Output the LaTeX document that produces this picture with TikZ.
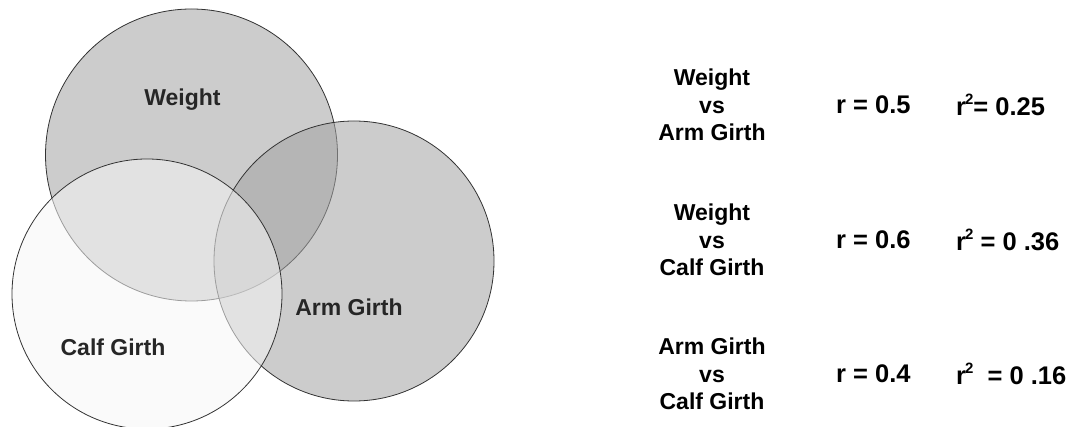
\documentclass[tikz,border=0pt]{standalone}
\usepackage{fontspec}
\setmainfont{Liberation Sans}
\newcommand{\sqr}{r\kern-1pt\raisebox{0.85ex}{\fontsize{15}{15}\selectfont\bfseries 2}}
\begin{document}
\begin{tikzpicture}[x=1pt,y=-1pt,
    set/.style={circle,draw=black!80,line width=0.8pt,inner sep=0pt},
    lbl/.style={font=\fontsize{23}{27.5}\selectfont\bfseries,text=black!85},
    pair/.style={font=\fontsize{23}{27.5}\selectfont\bfseries,align=center},
    val/.style={font=\fontsize{25.5}{30}\selectfont\bfseries,anchor=west,inner sep=0pt}]
    \useasboundingbox (0,0) rectangle (1073,427);
    % the three sets
    \node (weight) [set,fill=black!20,minimum size=292pt] at (191.5,155) {};
    \node (arm) [set,fill=black!36,fill opacity=0.55,minimum size=280pt] at (354,261) {};
    \node (calf) [set,fill=black!4,fill opacity=0.55,minimum size=270pt] at (147,294) {};
    \node (wlabel) [lbl] at (182.5,100) {Weight};
    \node (alabel) [lbl] at (349,307) {Arm Girth};
    \node (clabel) [lbl] at (113,347) {Calf Girth};

    % correlations
    \node (p1) [pair] at (712,105) {Weight\\vs\\Arm Girth};
    \node (r1) [val] at (836,105) {r = 0.5};
    \node (s1) [val] at (956,105) {\sqr = 0.25};
    \node (p2) [pair] at (712,240) {Weight\\vs\\Calf Girth};
    \node (r2) [val] at (836,240) {r = 0.6};
    \node (s2) [val] at (956,240) {\sqr\ = 0 .36};
    \node (p3) [pair] at (712,374) {Arm Girth\\vs\\Calf Girth};
    \node (r3) [val] at (836,374) {r = 0.4};
    \node (s3) [val] at (956,374) {\sqr\ \ = 0 .16};
\end{tikzpicture}
\end{document}
